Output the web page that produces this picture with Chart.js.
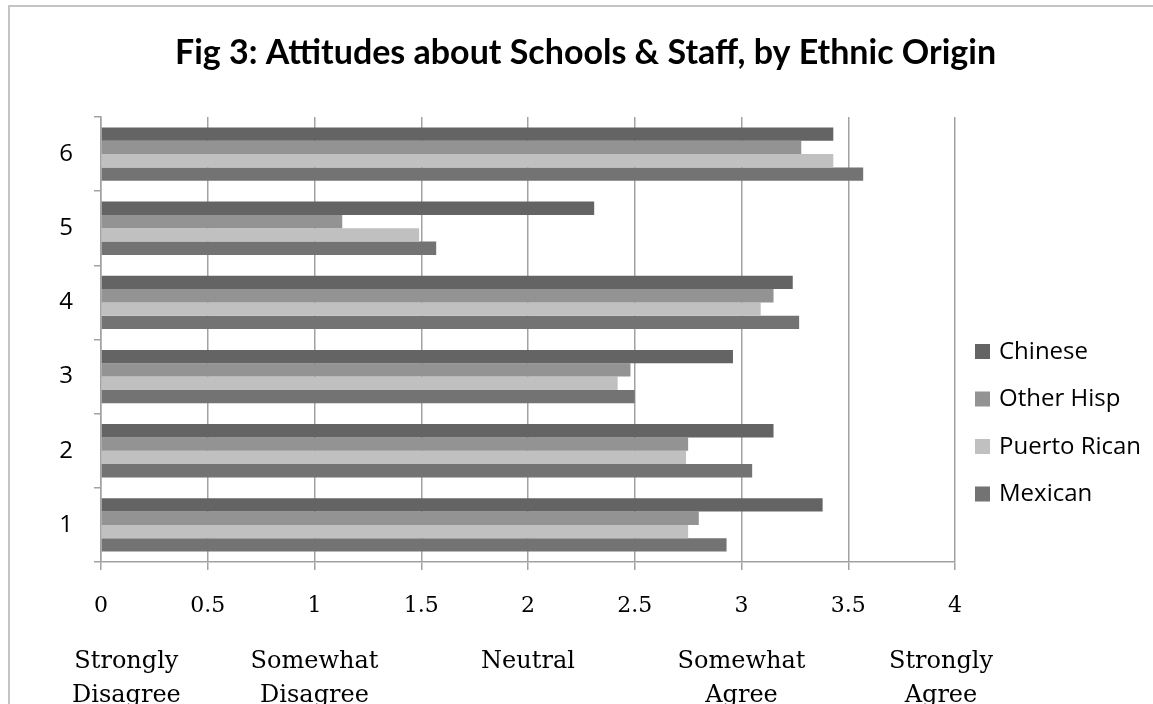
<!DOCTYPE html>
<html>
<head>
<meta charset="utf-8">
<script src="https://cdn.jsdelivr.net/npm/chart.js@4.4.1/dist/chart.umd.min.js"></script>
<style>
  html, body { margin: 0; padding: 0; background: #fff; overflow: hidden; }
  #wrap { position: relative; width: 1153px; height: 704px; }
  #frame { position: absolute; left: 8px; top: 5px; width: 1200px; height: 800px;
           border-top: 2px solid #c4c4c4; border-left: 2px solid #c4c4c4; pointer-events: none; }
  canvas { position: absolute; left: 0; top: 0; }
</style>
</head>
<body>
<div id="wrap">
  <canvas id="chart" width="1153" height="704"></canvas>
  <div id="frame"></div>
</div>
<script>
// groups listed top to bottom (6 .. 1)
const categories = ['6', '5', '4', '3', '2', '1'];
const chinese     = [3.43, 2.31, 3.24, 2.96, 3.15, 3.38];
const otherHisp   = [3.28, 1.13, 3.15, 2.48, 2.75, 2.80];
const puertoRican = [3.43, 1.49, 3.09, 2.42, 2.74, 2.75];
const mexican     = [3.57, 1.57, 3.27, 2.50, 3.05, 2.93];
const seriesNames = ['Chinese', 'Other Hisp', 'Puerto Rican', 'Mexican'];
const seriesColors = ['#646464', '#939393', '#c0c0c0', '#737373'];
const scaleWords = [['Strongly', 'Disagree'], ['Somewhat', 'Disagree'], ['Neutral'], ['Somewhat', 'Agree'], ['Strongly', 'Agree']];
const titleText = 'Fig 3: Attitudes about Schools & Staff, by Ethnic Origin';

const gridGray = '#a2a2a2';

// title, legend and the agree/disagree words under the axis
const extras = {
  id: 'extras',
  afterDraw(chart) {
    const ctx = chart.ctx;
    const area = chart.chartArea;
    const xs = chart.scales.x;
    ctx.save();
    ctx.fillStyle = '#000';

    ctx.font = 'bold 34px Lato';
    ctx.textAlign = 'center';
    ctx.textBaseline = 'middle';
    ctx.fillText(titleText, chart.width / 2 + 9, 53);

    ctx.font = '24px "Open Sans"';
    ctx.textAlign = 'left';
    chart.data.datasets.forEach((ds, i) => {
      const cy = 352 + i * 47.5;
      ctx.fillStyle = ds.backgroundColor;
      ctx.fillRect(area.right + 20, cy - 8, 15, 15);
      ctx.fillStyle = '#000';
      ctx.fillText(ds.label, area.right + 44, cy);
    });

    ctx.font = '24px "DejaVu Serif"';
    ctx.textBaseline = 'alphabetic';
    scaleWords.forEach((lines, i) => {
      const w = Math.max(...lines.map(t => ctx.measureText(t).width));
      let cx = xs.getPixelForValue(i);
      cx = Math.max(cx, area.left - 29 + w / 2);
      cx = Math.min(cx, area.right + 38 - w / 2);
      lines.forEach((t, j) => {
        ctx.textAlign = 'center';
        ctx.fillText(t, cx, 668 + j * 34);
      });
    });
    ctx.restore();
  }
};

new Chart(document.getElementById('chart'), {
  type: 'bar',
  data: {
    labels: categories,
    datasets: [
      { label: seriesNames[0], data: chinese, backgroundColor: seriesColors[0] },
      { label: seriesNames[1], data: otherHisp, backgroundColor: seriesColors[1] },
      { label: seriesNames[2], data: puertoRican, backgroundColor: seriesColors[2] },
      { label: seriesNames[3], data: mexican, backgroundColor: seriesColors[3] }
    ]
  },
  options: {
    indexAxis: 'y',
    responsive: false,
    animation: false,
    devicePixelRatio: 1,
    layout: { padding: { top: 117, right: 198, left: 0, bottom: 0 } },
    datasets: { bar: { categoryPercentage: 0.72, barPercentage: 1.0, borderWidth: 0 } },
    plugins: {
      legend: { display: false },
      title: { display: false },
      tooltip: { enabled: false }
    },
    scales: {
      x: {
        min: 0,
        max: 4,
        afterFit: s => { s.height = 142; },
        ticks: {
          stepSize: 0.5,
          color: '#000',
          padding: 23,
          font: { family: 'DejaVu Serif', size: 22 },
          callback: v => String(+v)
        },
        grid: { color: gridGray, lineWidth: 1.5, tickLength: 8 },
        border: { color: gridGray, width: 1.5 }
      },
      y: {
        afterFit: s => { s.width = 101; },
        ticks: {
          color: '#000',
          padding: 21,
          font: { family: 'Open Sans', size: 24 }
        },
        grid: { drawOnChartArea: false, color: gridGray, lineWidth: 1.5, tickLength: 7 },
        border: { color: gridGray, width: 1.5 }
      }
    }
  },
  plugins: [extras]
});
</script>
</body>
</html>
